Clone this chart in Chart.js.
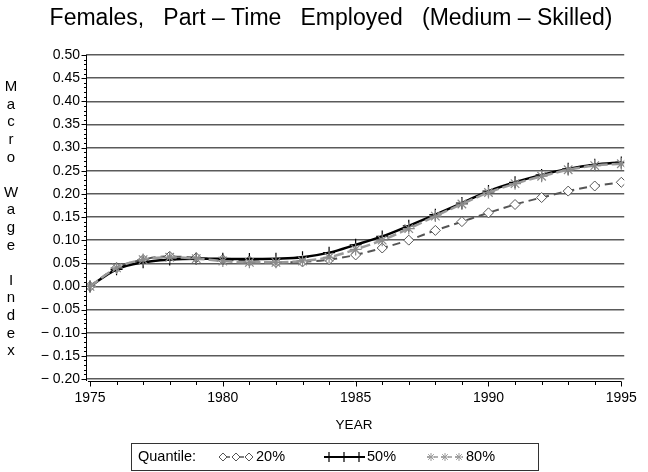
<!DOCTYPE html>
<html>
<head>
<meta charset="utf-8">
<script src="https://cdn.jsdelivr.net/npm/chart.js@4/dist/chart.umd.min.js"></script>
<style>
  html, body { margin: 0; padding: 0; background: #fff; }
  #wrap { position: relative; width: 648px; height: 472px; }
</style>
</head>
<body>
<div id="wrap"><canvas id="chart" width="648" height="472"></canvas></div>
<script>
// data
const years = [1975, 1976, 1977, 1978, 1979, 1980, 1981, 1982, 1983, 1984, 1985,
               1986, 1987, 1988, 1989, 1990, 1991, 1992, 1993, 1994, 1995];
const q20 = [0.000, 0.040, 0.058, 0.065, 0.062, 0.058, 0.055, 0.052, 0.053, 0.058, 0.068,
             0.083, 0.100, 0.121, 0.140, 0.159, 0.177, 0.192, 0.206, 0.217, 0.225];
const q50 = [0.000, 0.037, 0.052, 0.058, 0.060, 0.060, 0.059, 0.060, 0.063, 0.073, 0.090,
             0.108, 0.131, 0.155, 0.180, 0.206, 0.225, 0.241, 0.254, 0.263, 0.268];
const q80 = [0.000, 0.040, 0.058, 0.063, 0.060, 0.055, 0.052, 0.052, 0.055, 0.063, 0.080,
             0.100, 0.125, 0.152, 0.178, 0.203, 0.222, 0.238, 0.252, 0.261, 0.265];
const xTicks = [1975, 1980, 1985, 1990, 1995];
const yLabel = ['M', 'a', 'c', 'r', 'o', '', 'W', 'a', 'g', 'e', '', 'I', 'n', 'd', 'e', 'x'];
const legendItems = ['20%', '50%', '80%'];

const FONT = '"Liberation Sans", Arial, Helvetica, sans-serif';

function fmtY(v) {
    if (Math.abs(v) < 1e-9) return '0.00';
    return v < 0 ? '\u2212 ' + Math.abs(v).toFixed(2) : v.toFixed(2);
}

// symbols for the legend
function diamond(ctx, x, y, r) {
    ctx.beginPath();
    ctx.moveTo(x, y - r); ctx.lineTo(x + r, y); ctx.lineTo(x, y + r); ctx.lineTo(x - r, y);
    ctx.closePath();
    ctx.fillStyle = '#fff'; ctx.fill(); ctx.stroke();
}
function plus(ctx, x, y, r) {
    ctx.beginPath();
    ctx.moveTo(x, y - r); ctx.lineTo(x, y + r);
    ctx.moveTo(x - r, y); ctx.lineTo(x + r, y);
    ctx.stroke();
}
function star(ctx, x, y, r) {
    ctx.beginPath();
    for (let i = 0; i < 4; i++) {
        const a = i * Math.PI / 4;
        ctx.moveTo(x - r * Math.cos(a), y - r * Math.sin(a));
        ctx.lineTo(x + r * Math.cos(a), y + r * Math.sin(a));
    }
    ctx.stroke();
}

const decor = {
    id: 'decor',
    afterDraw(chart) {
        const ctx = chart.ctx;
        const xs = chart.scales.x, ys = chart.scales.y;
        const area = chart.chartArea;
        ctx.save();

        // title
        ctx.fillStyle = '#000';
        ctx.font = '23px ' + FONT;
        ctx.textAlign = 'center';
        ctx.textBaseline = 'middle';
        ctx.fillText('Females,   Part \u2013 Time   Employed   (Medium \u2013 Skilled)', 331, 19);

        // stacked y title
        ctx.font = '15px ' + FONT;
        yLabel.forEach((ch, i) => { if (ch) ctx.fillText(ch, 11, 87 + i * 17.6); });

        // x title
        ctx.font = '13.5px ' + FONT;
        ctx.fillText('YEAR', 354, 425);

        // y axis with minor ticks
        ctx.strokeStyle = '#000';
        ctx.lineWidth = 1;
        ctx.beginPath();
        ctx.moveTo(area.left + 0.5, area.top);
        ctx.lineTo(area.left + 0.5, area.bottom + 2);
        for (let k = -20; k <= 50; k++) {
            const py = Math.round(ys.getPixelForValue(k / 100)) + 0.5;
            const len = k % 5 === 0 ? 5 : 2.5;
            ctx.moveTo(area.left + 0.5, py);
            ctx.lineTo(area.left + 0.5 - len, py);
        }
        ctx.stroke();

        // x axis with minor ticks
        const x0 = xs.getPixelForValue(years[0]) - 2;
        const x1 = xs.getPixelForValue(years[years.length - 1]);
        const ay = area.bottom + 2.5;
        ctx.beginPath();
        ctx.moveTo(x0, ay); ctx.lineTo(x1, ay);
        years.forEach(yr => {
            const px = Math.round(xs.getPixelForValue(yr)) + 0.5;
            ctx.moveTo(px, ay);
            ctx.lineTo(px, ay + (yr % 5 === 0 ? 5 : 3.5));
        });
        ctx.stroke();

        // legend
        const lt = 443, lb = 470, lx0 = 131, lx1 = 538, cy = 457;
        ctx.strokeStyle = '#333';
        ctx.lineWidth = 1;
        ctx.strokeRect(lx0 + 0.5, lt + 0.5, lx1 - lx0, lb - lt);
        ctx.fillStyle = '#000';
        ctx.font = '14.5px ' + FONT;
        ctx.textAlign = 'left';
        ctx.fillText('Quantile:', 138, cy);

        // 20%
        ctx.strokeStyle = '#555';
        ctx.lineWidth = 1.5;
        ctx.setLineDash([4, 3]);
        ctx.beginPath(); ctx.moveTo(219, cy); ctx.lineTo(253, cy); ctx.stroke();
        ctx.setLineDash([]);
        ctx.lineWidth = 1;
        [223, 236, 249].forEach(px => diamond(ctx, px, cy, 4));
        // 50%
        ctx.strokeStyle = '#000';
        ctx.lineWidth = 2;
        ctx.beginPath(); ctx.moveTo(324, cy); ctx.lineTo(365, cy); ctx.stroke();
        ctx.lineWidth = 1.2;
        [329, 344, 359].forEach(px => plus(ctx, px, cy, 5));
        // 80%
        ctx.strokeStyle = '#999';
        ctx.lineWidth = 1.5;
        ctx.setLineDash([4, 3]);
        ctx.beginPath(); ctx.moveTo(427, cy); ctx.lineTo(463, cy); ctx.stroke();
        ctx.setLineDash([]);
        ctx.lineWidth = 1;
        [431, 445, 459].forEach(px => star(ctx, px, cy, 4));

        ctx.fillStyle = '#000';
        ctx.fillText(legendItems[0], 256, cy);
        ctx.fillText(legendItems[1], 367, cy);
        ctx.fillText(legendItems[2], 466, cy);

        ctx.restore();
    }
};

new Chart(document.getElementById('chart'), {
    type: 'line',
    data: {
        labels: years,
        datasets: [
            {
                label: legendItems[0],
                data: years.map((yr, i) => ({ x: yr, y: q20[i] })),
                borderColor: '#555',
                borderWidth: 2,
                borderDash: [8, 5],
                pointStyle: 'rectRot',
                pointRadius: 5,
                pointBorderColor: '#555',
                pointBackgroundColor: '#fff',
                pointBorderWidth: 1,
                order: 2
            },
            {
                label: legendItems[1],
                data: years.map((yr, i) => ({ x: yr, y: q50[i] })),
                borderColor: '#000',
                borderWidth: 2.5,
                pointStyle: 'cross',
                pointRadius: 6,
                pointBorderColor: '#000',
                pointBorderWidth: 1.2,
                order: 1
            },
            {
                label: legendItems[2],
                data: years.map((yr, i) => ({ x: yr, y: q80[i] })),
                borderColor: '#9a9a9a',
                borderWidth: 2.5,
                borderDash: [10, 4],
                pointStyle: 'star',
                pointRadius: 6,
                pointBorderColor: '#8a8a8a',
                pointBorderWidth: 1.2,
                order: 0
            }
        ]
    },
    options: {
        responsive: false,
        animation: false,
        cubicInterpolationMode: 'monotone',
        layout: { padding: { top: 55, right: 22, bottom: 0, left: 0 } },
        plugins: { legend: { display: false }, title: { display: false }, tooltip: { enabled: false } },
        scales: {
            x: {
                type: 'linear',
                min: 1974.85,
                max: 1995.11,
                afterBuildTicks: s => { s.ticks = xTicks.map(v => ({ value: v })); },
                afterFit: s => { s.height = 93; },
                grid: { display: false, drawTicks: false },
                border: { display: false },
                ticks: {
                    padding: 11,
                    color: '#000',
                    font: { family: FONT, size: 14 },
                    maxRotation: 0,
                    callback: v => String(v)
                }
            },
            y: {
                min: -0.2,
                max: 0.5,
                afterFit: s => { s.width = 86; },
                grid: { color: '#5a5a5a', lineWidth: 1.5, drawTicks: false },
                border: { display: false },
                ticks: {
                    stepSize: 0.05,
                    padding: 6,
                    color: '#000',
                    font: { family: FONT, size: 14 },
                    callback: v => fmtY(v)
                }
            }
        }
    },
    plugins: [decor]
});
</script>
</body>
</html>
